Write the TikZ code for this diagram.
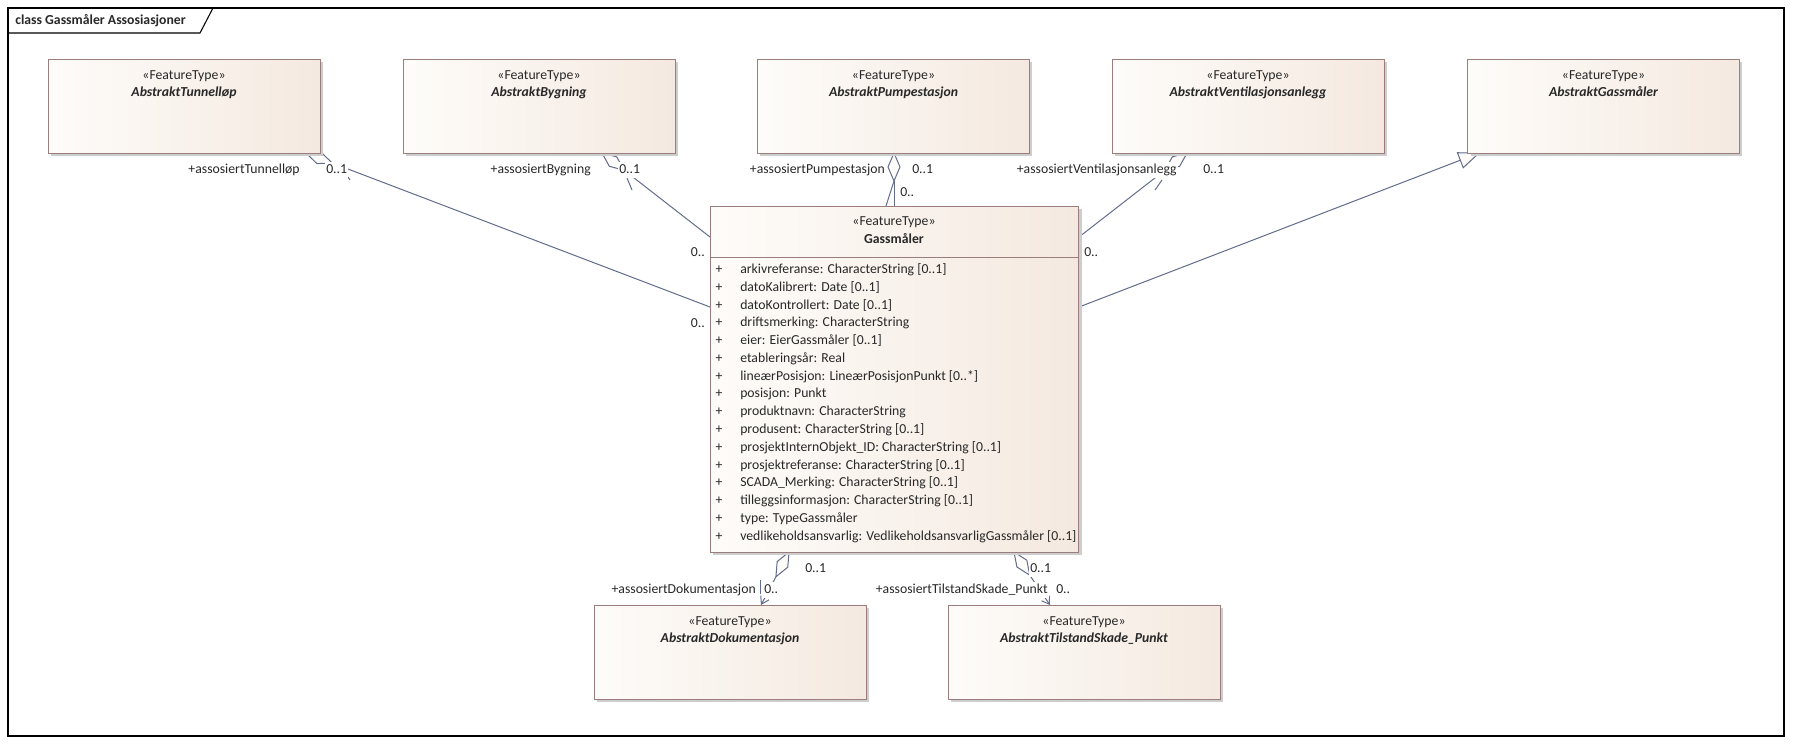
\documentclass[tikz,border=0pt]{standalone}
\usepackage{fontspec}
\setmainfont{Carlito}
\usetikzlibrary{calc,arrows.meta}
\definecolor{boxL}{RGB}{254,252,249}
\definecolor{boxR}{RGB}{244,233,224}
\definecolor{boxline}{RGB}{155,125,125}
\definecolor{shadowc}{RGB}{205,205,205}
\definecolor{connc}{RGB}{98,108,140}
\definecolor{txt}{RGB}{40,40,40}
\newcommand{\fs}{\fontsize{10.3}{13}\selectfont}
\pgfdeclarelayer{bg}
\pgfdeclarelayer{conns}
\pgfsetlayers{bg,conns,main}
% aggregation diamond at #1 pointing toward #2, plain line to #2
\newcommand{\aggdiam}[2]{%
  \draw[diamst] (#1) -- ($(#1)!10.5pt!(#2)!4.5pt!90:(#2)$) -- ($(#1)!21pt!(#2)$) -- ($(#1)!10.5pt!(#2)!4.5pt!-90:(#2)$) -- cycle;
  \draw[conn] ($(#1)!21pt!(#2)$) -- (#2);}
% aggregation diamond at #1, navigable arrow to #2
\newcommand{\aggdiamarrow}[2]{%
  \draw[diamst] (#1) -- ($(#1)!10.5pt!(#2)!4.5pt!90:(#2)$) -- ($(#1)!21pt!(#2)$) -- ($(#1)!10.5pt!(#2)!4.5pt!-90:(#2)$) -- cycle;
  \draw[conn,-{Straight Barb[length=5.5pt,width=7pt]}] ($(#1)!21pt!(#2)$) -- (#2);}
\begin{document}
\begin{tikzpicture}[x=0.75pt,y=-0.75pt,
  every node/.style={font=\fs, text=txt},
  cls/.style={draw=boxline, line width=0.75pt, left color=boxL, right color=boxR,
              minimum width=204pt, minimum height=70.5pt, inner sep=0pt},
  txtn/.style={inner sep=0pt, text height=7.4pt, text depth=2.4pt},
  lbl/.style={inner sep=0.75pt, fill=white, text height=7.4pt, text depth=2.4pt},
  conn/.style={draw=connc, line width=0.75pt},
  diamst/.style={draw=connc, line width=0.75pt, fill=boxL},
  nm/.style={txtn, font=\fs\bfseries\itshape},
]
\useasboundingbox (0,0) rectangle (1794,744);
\begin{pgfonlayer}{bg}
  \fill[white] (0,0) rectangle (1794,744);
  \draw[black, line width=0.8pt] (8,8) rectangle (1784,736);
  \draw[black, line width=0.8pt] (8,33) -- (200,33) -- (213,8);
\end{pgfonlayer}
\node[txtn, anchor=west, font=\fs\bfseries] (title) at (15,21) {class Gassmåler Assosiasjoner};

% ---------- top boxes ----------
\fill[shadowc] (51,62) rectangle (323,156);
\node[cls] (tun) at (184,106) {};
\node[txtn] (tunS) at (184,76) {«FeatureType»};
\node[nm] (tunN) at (184,93) {AbstraktTunnelløp};

\fill[shadowc] (406,62) rectangle (678,156);
\node[cls] (byg) at (539,106) {};
\node[txtn] (bygS) at (539,76) {«FeatureType»};
\node[nm] (bygN) at (539,93) {AbstraktBygning};

\fill[shadowc] (760,62) rectangle (1032,156);
\node[cls] (pum) at (893.5,106) {};
\node[txtn] (pumS) at (893.5,76) {«FeatureType»};
\node[nm] (pumN) at (893.5,93) {AbstraktPumpestasjon};

\fill[shadowc] (1115,62) rectangle (1387,156);
\node[cls] (ven) at (1248,106) {};
\node[txtn] (venS) at (1248,76) {«FeatureType»};
\node[nm] (venN) at (1248,93) {AbstraktVentilasjonsanlegg};

\fill[shadowc] (1471,62) rectangle (1742,156);
\node[cls] (gas) at (1603.5,106) {};
\node[txtn] (gasS) at (1603.5,76) {«FeatureType»};
\node[nm] (gasN) at (1603.5,93) {AbstraktGassmåler};

% ---------- main box ----------
\fill[shadowc] (713,209) rectangle (1082,555);
\node[cls, minimum width=276pt, minimum height=259.5pt] (main) at (894,379) {};
\node[txtn] (mainS) at (894,222) {«FeatureType»};
\node[txtn, font=\fs\bfseries] (mainN) at (894,240) {Gassmåler};
\draw[boxline, line width=0.75pt] (710,257) -- (1078,257);
\foreach \t [count=\i from 0] in {
  {arkivreferanse: CharacterString [0..1]},
  {datoKalibrert: Date [0..1]},
  {datoKontrollert: Date [0..1]},
  {driftsmerking: CharacterString},
  {eier: EierGassmåler [0..1]},
  {etableringsår: Real},
  {lineærPosisjon: LineærPosisjonPunkt [0..*]},
  {posisjon: Punkt},
  {produktnavn: CharacterString},
  {produsent: CharacterString [0..1]},
  {prosjektInternObjekt\_ID: CharacterString [0..1]},
  {prosjektreferanse: CharacterString [0..1]},
  {SCADA\_Merking: CharacterString [0..1]},
  {tilleggsinformasjon: CharacterString [0..1]},
  {type: TypeGassmåler},
  {vedlikeholdsansvarlig: VedlikeholdsansvarligGassmåler [0..1]}} {
  \node[txtn] (plus\i) at (719,{270.3+17.76*\i}) {+};
  \node[txtn, anchor=west] (attr\i) at (740,{270.3+17.76*\i}) {\t};
}

% ---------- bottom boxes ----------
\fill[shadowc] (597,608) rectangle (869,702);
\node[cls] (dok) at (730,652) {};
\node[txtn] (dokS) at (730,622) {«FeatureType»};
\node[nm] (dokN) at (730,639) {AbstraktDokumentasjon};

\fill[shadowc] (951,608) rectangle (1223,702);
\node[cls] (til) at (1084,652) {};
\node[txtn] (tilS) at (1084,622) {«FeatureType»};
\node[nm] (tilN) at (1084,639) {AbstraktTilstandSkade\_Punkt};

% ---------- connectors ----------
\begin{pgfonlayer}{conns}
  \coordinate (tunT) at (306,153);  \coordinate (tunM) at (710,307);
  \coordinate (bygT) at (602,153);  \coordinate (bygM) at (710,237);
  \coordinate (pumT) at (894,153);  \coordinate (pumM) at (894,206);
  \coordinate (venT) at (1187,153); \coordinate (venM) at (1079,237);
  \coordinate (gasT) at (1479,153); \coordinate (gasM) at (1079,307);
  \coordinate (dokT) at (789,552);  \coordinate (dokA) at (761,605);
  \coordinate (tilT) at (1014,552); \coordinate (tilA) at (1050,605);
  \coordinate (pumM2) at (886,206);
  \aggdiam{tunT}{tunM}
  \aggdiam{bygT}{bygM}
  \aggdiam{pumT}{pumM}
  \aggdiam{venT}{venM}
  \aggdiamarrow{dokT}{dokA}
  \aggdiamarrow{tilT}{tilA}
  \draw[conn] ($(pumT)!21pt!(pumM)$) -- (pumM2);
  % generalization
  \draw[conn] (gasM) -- ($(gasT)!15pt!(gasM)$);
  \draw[diamst] (gasT) -- ($(gasT)!15pt!(gasM)!6pt!90:(gasM)$) -- ($(gasT)!15pt!(gasM)!6pt!-90:(gasM)$) -- cycle;
  % small line fragments
  \draw[conn] (348,177) -- (350,180);
  \draw[conn] (627,178) -- (632,190);
  \draw[conn] (1162,180) -- (1155,190);
\end{pgfonlayer}
\draw[conn] (760,580) -- (760,594);

% ---------- labels ----------
\node[lbl, anchor=east] (tunRole) at (301,170) {+assosiertTunnelløp};
\node[lbl, anchor=west] (tunMult) at (325,170) {0..1};
\node[lbl, anchor=east] (tunMain) at (706,324) {0..};
\node[lbl, anchor=east] (bygRole) at (592,170) {+assosiertBygning};
\node[lbl, anchor=west] (bygMult) at (618,170) {0..1};
\node[lbl, anchor=east] (bygMain) at (706,253) {0..};
\node[lbl, anchor=east] (pumRole) at (886,170) {+assosiertPumpestasjon};
\node[lbl, anchor=west] (pumMult) at (911,170) {0..1};
\node[lbl, anchor=west] (pumMain) at (899,193) {0..};
\node[lbl, anchor=east] (venRole) at (1178,170) {+assosiertVentilasjonsanlegg};
\node[lbl, anchor=west] (venMult) at (1202,170) {0..1};
\node[lbl, anchor=west] (venMain) at (1083,253) {0..};
\node[lbl, anchor=west] (dokMult) at (804,569) {0..1};
\node[lbl, anchor=east] (dokRole) at (757,590) {+assosiertDokumentasjon};
\node[lbl, anchor=west] (dokMain) at (763,590) {0..};
\node[lbl, anchor=west] (tilMult) at (1029,569) {0..1};
\node[lbl, anchor=east] (tilRole) at (1049,590) {+assosiertTilstandSkade\_Punkt};
\node[lbl, anchor=west] (tilMain) at (1055,590) {0..};
\end{tikzpicture}
\end{document}
